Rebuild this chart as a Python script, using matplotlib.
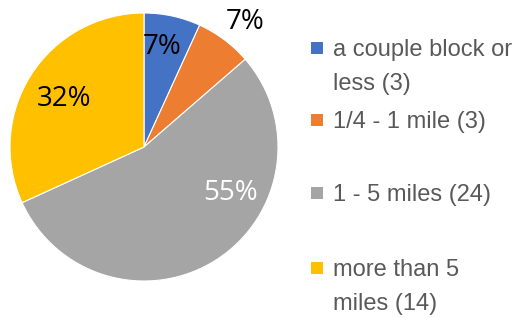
import matplotlib
matplotlib.use("Agg")
import matplotlib.pyplot as plt
from matplotlib.patches import Rectangle
import numpy as np

# === Data ===
categories = ["a couple block or\nless (3)", "1/4 - 1 mile (3)", "1 - 5 miles (24)", "more than 5\nmiles (14)"]
counts = [3, 3, 24, 14]
colors = ["#4472C4", "#ED7D31", "#A5A5A5", "#FFC000"]

# label placement (radius, angle in degrees) and text colour per slice
label_pos = [(0.76, 80), (1.20, 51), (0.73, -28), (0.70, 149)]
label_colors = ["black", "black", "white", "black"]

fig = plt.figure(figsize=(5.2, 3.18), dpi=100)
ax = fig.add_axes([10 / 520, 37 / 318, 268 / 520, 268 / 318])

wedges, texts, autotexts = ax.pie(
    counts,
    colors=colors,
    startangle=90,
    counterclock=False,
    autopct="%.0f%%",
    wedgeprops=dict(edgecolor="white", linewidth=0.8),
    textprops=dict(family=["Open Sans", "DejaVu Sans"], fontsize=20),
)
ax.set_xlim(-1, 1)
ax.set_ylim(-1, 1)
ax.set_aspect("equal")

for t, (r, ang), c in zip(autotexts, label_pos, label_colors):
    a = np.deg2rad(ang)
    t.set_position((r * np.cos(a), r * np.sin(a)))
    t.set_color(c)

# === Legend (drawn by hand to match spacing) ===
legend_y = [48, 120, 193, 268]  # pixel rows from top for first line
for w, lab, y in zip(wedges, categories, legend_y):
    fig.add_artist(Rectangle((311 / 520, 1 - (y + 6) / 318), 12 / 520, 12 / 318,
                             transform=fig.transFigure, facecolor=w.get_facecolor(),
                             edgecolor="none"))
    fig.text(333 / 520, 1 - (y - 9) / 318, lab, ha="left", va="top",
             fontsize=17, color="#595959", linespacing=1.72,
             family=["Liberation Sans", "DejaVu Sans"])

fig.savefig("out.png", dpi=100)
